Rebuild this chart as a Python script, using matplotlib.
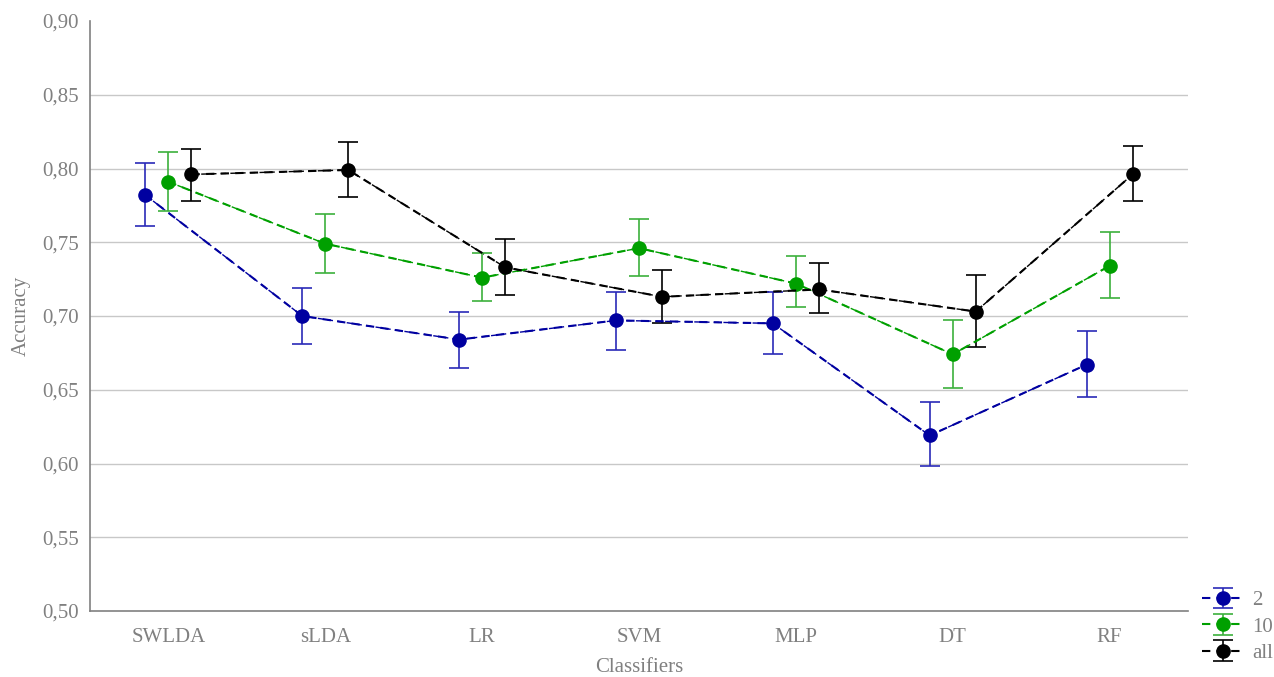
import matplotlib
matplotlib.use("Agg")
import matplotlib.pyplot as plt
import numpy as np

categories = ["SWLDA", "sLDA", "LR", "SVM", "MLP", "DT", "RF"]
series_names = ["2", "10", "all"]

acc_2 = [0.782, 0.700, 0.684, 0.697, 0.695, 0.619, 0.667]
lo_2 = [0.761, 0.681, 0.665, 0.677, 0.674, 0.598, 0.645]
hi_2 = [0.804, 0.719, 0.703, 0.716, 0.716, 0.642, 0.690]

acc_10 = [0.791, 0.749, 0.726, 0.746, 0.722, 0.674, 0.734]
lo_10 = [0.771, 0.729, 0.710, 0.727, 0.706, 0.651, 0.712]
hi_10 = [0.811, 0.769, 0.743, 0.766, 0.741, 0.697, 0.757]

acc_all = [0.796, 0.799, 0.733, 0.713, 0.718, 0.703, 0.796]
lo_all = [0.778, 0.781, 0.714, 0.695, 0.702, 0.679, 0.778]
hi_all = [0.813, 0.818, 0.752, 0.731, 0.736, 0.728, 0.815]

plt.rcParams['font.family'] = ['Liberation Serif', 'DejaVu Serif']

fig = plt.figure(figsize=(12.74, 6.77), dpi=100)
ax = fig.add_axes([90/1274, 1-611/677, (1188-90)/1274, (611-21)/677])

x = np.arange(len(categories))
offsets = [-0.147, 0.0, 0.147]
line_colors = ["#0000a0", "#00a000", "#000000"]
err_colors = ["#2a2ab8", "#3cb03c", "#000000"]
data = [(acc_2, lo_2, hi_2), (acc_10, lo_10, hi_10), (acc_all, lo_all, hi_all)]

handles = []
for (acc, lo, hi), off, lc, ec, name in zip(data, offsets, line_colors, err_colors, series_names):
    acc = np.array(acc); lo = np.array(lo); hi = np.array(hi)
    xs = x + off
    ax.plot(xs, acc, linestyle=(0, (4, 3)), color=lc, linewidth=1.0, zorder=2)
    h = ax.errorbar(xs, acc, yerr=[acc - lo, hi - acc], fmt='o', color=lc, ecolor=ec,
                    markersize=9.5, elinewidth=1.2, capsize=7, capthick=1.2, zorder=3,
                    label=name, linestyle=(0, (4, 3)))
    handles.append(h)

for g in [0.55, 0.60, 0.65, 0.70, 0.75, 0.80, 0.85]:
    ax.axhline(g, color="#c8c8c8", linewidth=1.0, zorder=0)

ax.set_xlim(-0.5, 6.5)
ax.set_ylim(0.5, 0.9)
ax.set_yticks(np.arange(0.50, 0.901, 0.05))
ax.set_yticklabels([f"{v:.2f}".replace(".", ",") for v in np.arange(0.50, 0.901, 0.05)])
ax.set_xticks(x)
ax.set_xticklabels(categories)
ax.tick_params(axis='both', colors="#808080", labelsize=15, length=0)
ax.tick_params(axis='x', pad=12)
ax.tick_params(axis='y', pad=8)
for s in ["top", "right"]:
    ax.spines[s].set_visible(False)
for s in ["left", "bottom"]:
    ax.spines[s].set_color("#808080")
    ax.spines[s].set_linewidth(1.2)

ax.set_xlabel("Classifiers", color="#808080", fontsize=15, labelpad=8)
ax.set_ylabel("Accuracy", color="#808080", fontsize=15, labelpad=8)

leg = fig.legend(handles=handles, labels=series_names, loc="lower left",
                 bbox_to_anchor=(1198/1274, 1-667/677), frameon=False, fontsize=15,
                 labelcolor="#808080", handlelength=2.0, handletextpad=0.4,
                 labelspacing=0.32, borderpad=0.2, borderaxespad=0.0)

fig.savefig("out.png", dpi=100)
